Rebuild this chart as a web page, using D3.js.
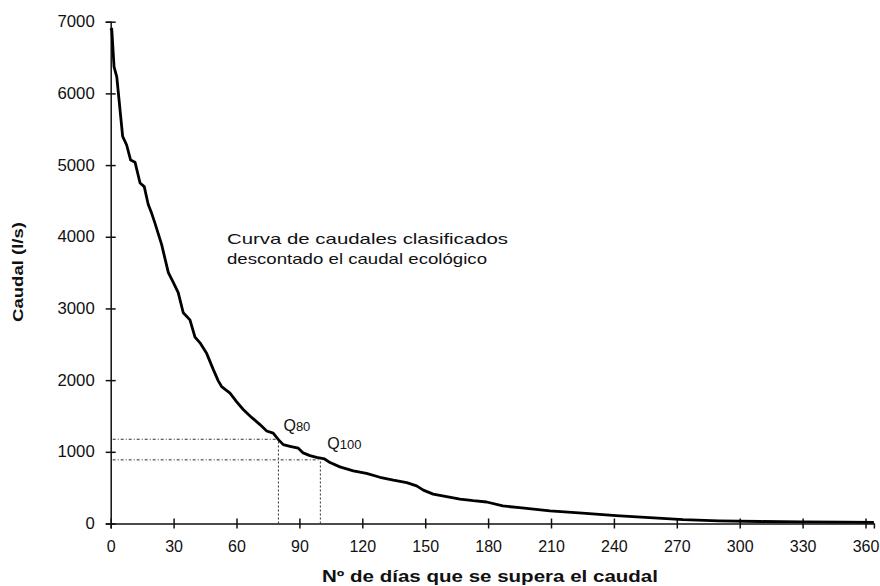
<!DOCTYPE html>
<html>
<head>
<meta charset="utf-8">
<script src="https://cdn.jsdelivr.net/npm/d3@7"></script>
<style>
  body { margin: 0; background: #fff; }
  svg text { font-family: "Liberation Sans", Arial, sans-serif; fill: #111; }
  .axis path, .axis line { stroke: #111; stroke-width: 1.5; }
  .axis text { font-size: 16px; }
</style>
</head>
<body>
<div id="vis-container"></div>
<script>
// duration curve: days exceeded vs flow (l/s)
const days = [0, 0.5, 1.6, 2.9, 5.7, 7.6, 9.5, 11.6, 14, 16, 17.9, 19.5, 21.1, 24.3, 27.5, 29.9,
  32.2, 34.6, 37.8, 40.2, 42.6, 45.8, 48.9, 51.3, 52.9, 56.9, 60, 63.2, 67.2, 71.2, 74.4, 77.5,
  80, 82.3, 85.5, 89.5, 91.8, 95, 98.2, 102, 104.6, 109.3, 115.7, 122, 128.4, 134.8, 141.2,
  145.9, 149.1, 153.8, 160.2, 166.6, 172.9, 179.3, 187, 195, 209.5, 225, 241, 257, 273, 290,
  310, 330, 350, 364];
const flow = [6880, 6900, 6370, 6230, 5400, 5280, 5070, 5040, 4750, 4700, 4450, 4330, 4190, 3890, 3500, 3360,
  3220, 2940, 2840, 2600, 2520, 2370, 2150, 1990, 1910, 1820, 1700, 1590, 1480, 1380, 1290, 1260,
  1170, 1100, 1077, 1050, 985, 947, 923, 900, 850, 790, 735, 700, 645, 605, 570,
  525, 465, 410, 375, 340, 318, 300, 245, 220, 177, 145, 110, 83, 55, 38,
  28, 22, 18, 15];

// reference points Q80 and Q100
const qDays = [80, 100];
const qFlow = [1175, 888];
const qNames = ["80", "100"];

const xTicks = [0, 30, 60, 90, 120, 150, 180, 210, 240, 270, 300, 330, 360];
const yTicks = [0, 1000, 2000, 3000, 4000, 5000, 6000, 7000];

let width = 880;
let height = 586;
let margins = { top: 21.7, left: 110.7 };
let visWidth = 364 * 2.0967;
let visHeight = 501.8;

let svg = d3.select("#vis-container").append("svg").attr("width", width).attr("height", height);
let viewport = svg.append("g").attr("transform", "translate(" + margins.left + "," + margins.top + ")");

let xScale = d3.scaleLinear().domain([0, 364]).range([0, visWidth]);
let yScale = d3.scaleLinear().domain([0, 7000]).range([visHeight, 0]);

let data = days.map((d, i) => ({ day: d, q: flow[i] }));

// axes, ticks crossing the line on both sides
let xAxis = viewport.append("g")
  .attr("class", "axis")
  .attr("transform", "translate(0," + visHeight + ")")
  .call(d3.axisBottom(xScale).tickValues(xTicks).tickFormat(d3.format("d"))
    .tickSizeOuter(0).tickSize(5).tickPadding(12));
xAxis.selectAll(".tick line").attr("y1", -5).attr("y2", 5);

let yAxis = viewport.append("g")
  .attr("class", "axis")
  .call(d3.axisLeft(yScale).tickValues(yTicks).tickFormat(d3.format("d"))
    .tickSizeOuter(0).tickSize(5).tickPadding(11));
yAxis.selectAll(".tick line").attr("x1", 5).attr("x2", -5);
yAxis.selectAll(".tick text").attr("textLength", function () { return this.textContent.length * 9.3; })
  .attr("lengthAdjust", "spacingAndGlyphs");
svg.selectAll(".axis .domain").attr("fill", "none");

// dotted guides for Q80 and Q100
let guides = viewport.append("g");
qDays.forEach((d, i) => {
  guides.append("line")
    .attr("x1", 2).attr("x2", xScale(d))
    .attr("y1", yScale(qFlow[i])).attr("y2", yScale(qFlow[i]))
    .attr("stroke", "#333").attr("stroke-width", 1).attr("stroke-dasharray", "3,2,1,2");
  guides.append("line")
    .attr("x1", xScale(d)).attr("x2", xScale(d))
    .attr("y1", visHeight).attr("y2", yScale(qFlow[i]))
    .attr("stroke", "#333").attr("stroke-width", 1).attr("stroke-dasharray", "2,2");
});

// the curve
let lineGen = d3.line().x(d => xScale(d.day)).y(d => yScale(d.q));
viewport.append("path")
  .attr("d", lineGen(data))
  .attr("fill", "none")
  .attr("stroke", "#000")
  .attr("stroke-width", 2.8)
  .attr("stroke-linejoin", "round");

// Q labels
let qLabel = viewport.append("g");
let qOffsets = [[5, -8], [7, -11]];
qDays.forEach((d, i) => {
  let t = qLabel.append("text")
    .attr("x", xScale(d) + qOffsets[i][0])
    .attr("y", yScale(qFlow[i]) + qOffsets[i][1])
    .style("font-size", "16px");
  t.append("tspan").text("Q");
  t.append("tspan").text(qNames[i]).style("font-size", "13px");
});

// annotation (the printed text is wide, so stretch it to the same length)
svg.append("text").attr("x", 227).attr("y", 244).style("font-size", "15px")
  .attr("textLength", 281).attr("lengthAdjust", "spacingAndGlyphs")
  .text("Curva de caudales clasificados");
svg.append("text").attr("x", 227).attr("y", 264).style("font-size", "15px")
  .attr("textLength", 260).attr("lengthAdjust", "spacingAndGlyphs")
  .text("descontado el caudal ecológico");

// axis titles
svg.append("text")
  .attr("transform", "translate(23,272) rotate(-90)")
  .attr("text-anchor", "middle")
  .style("font-size", "15px").style("font-weight", "bold")
  .attr("textLength", 100).attr("lengthAdjust", "spacingAndGlyphs")
  .text("Caudal (l/s)");
svg.append("text")
  .attr("x", 490).attr("y", 582)
  .attr("text-anchor", "middle")
  .style("font-size", "16px").style("font-weight", "bold")
  .attr("textLength", 336).attr("lengthAdjust", "spacingAndGlyphs")
  .text("Nº de días que se supera el caudal");
</script>
</body>
</html>
